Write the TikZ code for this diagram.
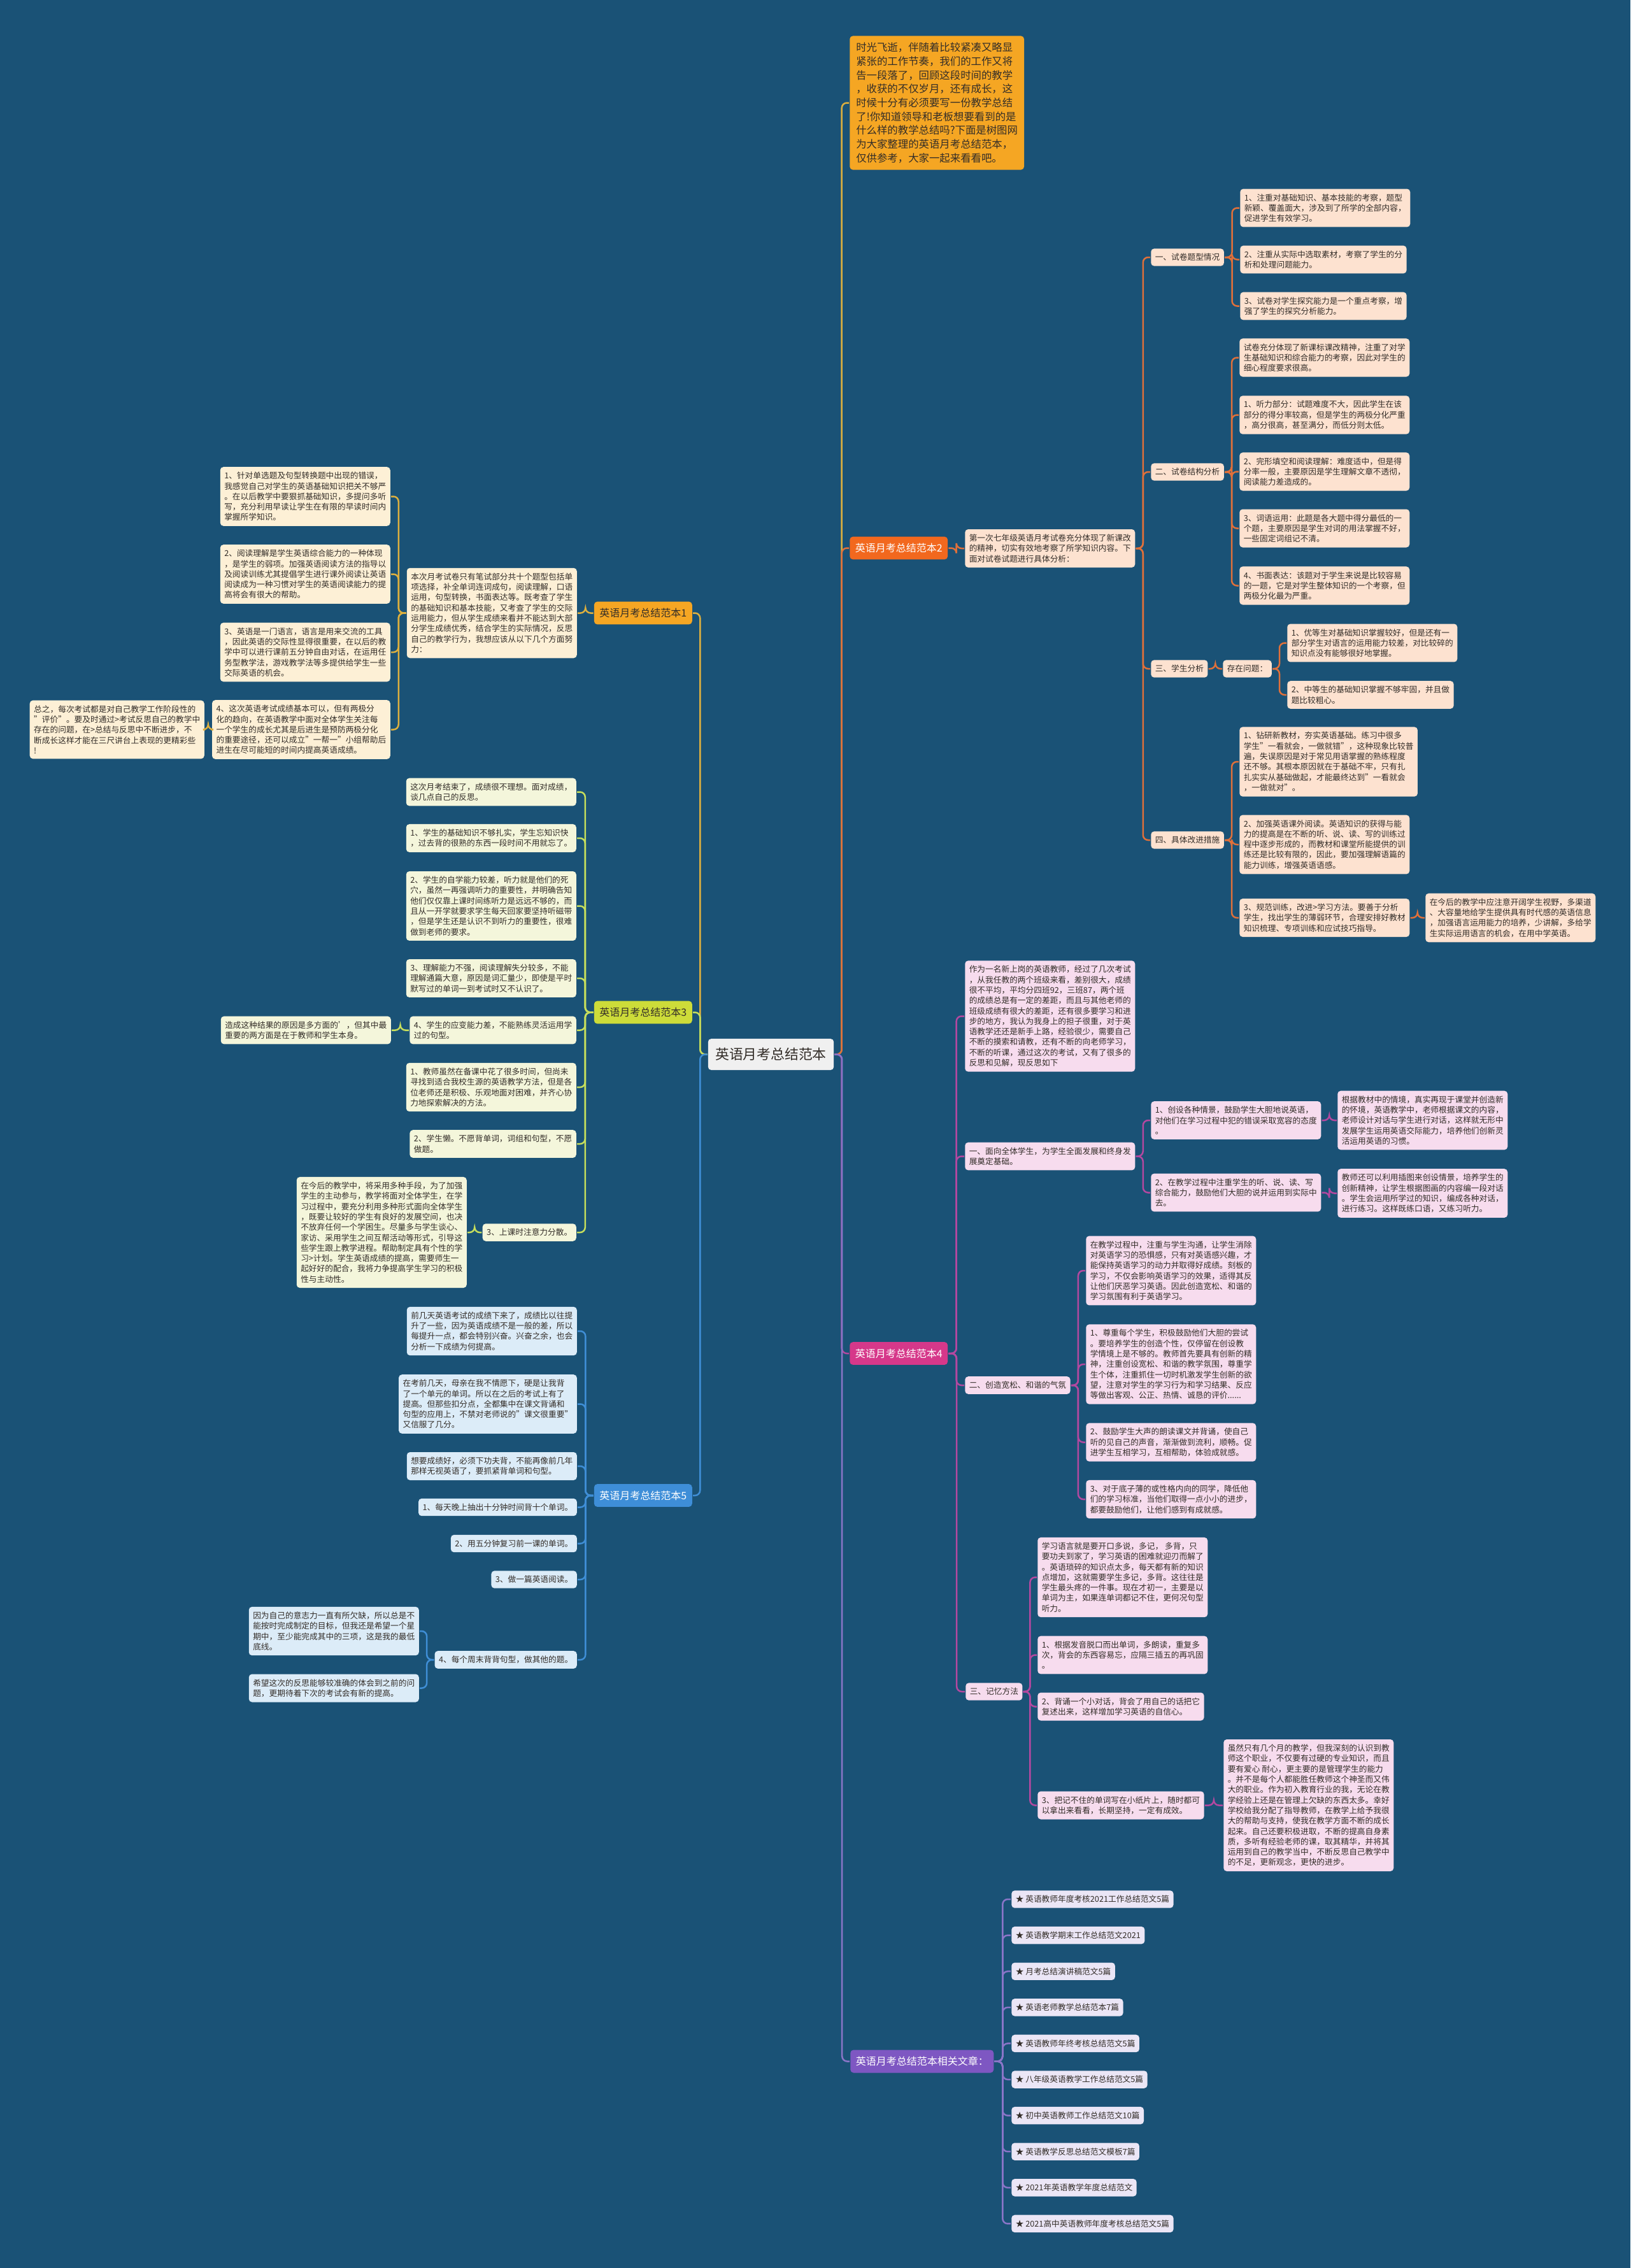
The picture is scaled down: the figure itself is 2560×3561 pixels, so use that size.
\documentclass[tikz,border=0pt]{standalone}
\usepackage{fontspec}
\setmainfont{Noto Sans CJK SC}
\usetikzlibrary{positioning,calc}
\definecolor{Backdrop}{RGB}{26,82,118}
\definecolor{TextDark}{RGB}{51,45,40}
\definecolor{RootFill}{RGB}{240,240,240}
\definecolor{Palette1}{RGB}{245,166,35}
\definecolor{Line1}{RGB}{222,176,62}
\definecolor{Leaf1}{RGB}{253,240,214}
\definecolor{Palette2}{RGB}{242,104,30}
\definecolor{Line2}{RGB}{224,112,58}
\definecolor{Leaf2}{RGB}{253,226,208}
\definecolor{Palette3}{RGB}{205,220,57}
\definecolor{Line3}{RGB}{198,222,92}
\definecolor{Leaf3}{RGB}{244,246,219}
\definecolor{Palette4}{RGB}{214,56,138}
\definecolor{Line4}{RGB}{180,72,160}
\definecolor{Leaf4}{RGB}{247,220,238}
\definecolor{Palette5}{RGB}{62,142,216}
\definecolor{Line5}{RGB}{63,142,214}
\definecolor{Leaf5}{RGB}{220,236,248}
\definecolor{Palette6}{RGB}{126,87,194}
\definecolor{Line6}{RGB}{138,117,200}
\definecolor{Leaf6}{RGB}{235,230,246}
\tikzset{map layout/.style={%
    y=-1pt,
    x=1pt,
    every node/.style={%
        rounded corners=5pt, align=left, inner xsep=6.5pt, inner ysep=7.8pt,
        font=\fontsize{12.7}{16.3}\selectfont, text=TextDark
    },
    every path/.style={%
        line width=2.5pt, rounded corners=8pt
    }
}}
\tikzset{leaf/.style={fill=#1}}
\tikzset{label/.style={%
    fill=#1, inner xsep=8.5pt, inner ysep=10.5pt, font=\fontsize{16}{19}\selectfont
}}
\tikzset{link/.style={%
    to path={let \p1=(\tikztostart), \p2=(\tikztotarget) in -- ({(\x1+\x2)/2},\y1) |- (\tikztotarget)}
}}

\begin{document}
\begin{tikzpicture}[map layout]
    \fill[Backdrop, rounded corners=0pt] (0,0) rectangle (2560,3561);
    \useasboundingbox (0,0) rectangle (2560,3561);

    \node[fill=RootFill, inner xsep=11.5pt, inner ysep=14.5pt, font=\fontsize{21.8}{26}\selectfont] (root) at (1210.5,1655.5) {英语月考总结范本};

    % right side
    \node[anchor=west, fill=Palette1, inner xsep=10pt, inner ysep=10.5pt, font=\fontsize{16.4}{21.7}\selectfont] (top) at (1333,161.5) {时光飞逝，伴随着比较紧凑又略显\\紧张的工作节奏，我们的工作又将\\告一段落了，回顾这段时间的教学\\，收获的不仅岁月，还有成长，这\\时候十分有必须要写一份教学总结\\了!你知道领导和老板想要看到的是\\什么样的教学总结吗?下面是树图网\\为大家整理的英语月考总结范本，\\仅供参考，大家一起来看看吧。};

    \node[anchor=west, label=Palette2, text=white] (b2) at (1333,860.5) {英语月考总结范本2};
    \node[anchor=west, leaf=Leaf2] (b2t) at (1514,861) {第一次七年级英语月考试卷充分体现了新课改\\的精神，切实有效地考察了所学知识内容。下\\面对试卷试题进行具体分析：};
    \node[anchor=west, leaf=Leaf2] (b2a) at (1806,404) {一、试卷题型情况};
    \node[anchor=west, leaf=Leaf2] (b2a1) at (1946,326.5) {1、注重对基础知识、基本技能的考察，题型\\新颖、覆盖面大，涉及到了所学的全部内容，\\促进学生有效学习。};
    \node[anchor=west, leaf=Leaf2] (b2a2) at (1946,407.5) {2、注重从实际中选取素材，考察了学生的分\\析和处理问题能力。};
    \node[anchor=west, leaf=Leaf2] (b2a3) at (1946,480.5) {3、试卷对学生探究能力是一个重点考察，增\\强了学生的探究分析能力。};
    \node[anchor=west, leaf=Leaf2] (b2b) at (1806,741) {二、试卷结构分析};
    \node[anchor=west, leaf=Leaf2] (b2b0) at (1945,561.5) {试卷充分体现了新课标课改精神，注重了对学\\生基础知识和综合能力的考察，因此对学生的\\细心程度要求很高。};
    \node[anchor=west, leaf=Leaf2] (b2b1) at (1945,651.5) {1、听力部分：试题难度不大，因此学生在该\\部分的得分率较高，但是学生的两极分化严重\\，高分很高，甚至满分，而低分则太低。};
    \node[anchor=west, leaf=Leaf2] (b2b2) at (1945,740.5) {2、完形填空和阅读理解：难度适中，但是得\\分率一般，主要原因是学生理解文章不透彻，\\阅读能力差造成的。};
    \node[anchor=west, leaf=Leaf2] (b2b3) at (1945,829.5) {3、词语运用：此题是各大题中得分最低的一\\个题，主要原因是学生对词的用法掌握不好，\\一些固定词组记不清。};
    \node[anchor=west, leaf=Leaf2] (b2b4) at (1945,919.5) {4、书面表达：该题对于学生来说是比较容易\\的一题，它是对学生整体知识的一个考察，但\\两极分化最为严重。};
    \node[anchor=west, leaf=Leaf2] (b2c) at (1806,1050) {三、学生分析};
    \node[anchor=west, leaf=Leaf2] (b2cq) at (1919,1050) {存在问题：};
    \node[anchor=west, leaf=Leaf2] (b2c1) at (2020,1009.5) {1、优等生对基础知识掌握较好，但是还有一\\部分学生对语言的运用能力较差，对比较碎的\\知识点没有能够很好地掌握。};
    \node[anchor=west, leaf=Leaf2] (b2c2) at (2020,1091) {2、中等生的基础知识掌握不够牢固，并且做\\题比较粗心。};
    \node[anchor=west, leaf=Leaf2] (b2d) at (1806,1319) {四、具体改进措施};
    \node[anchor=west, leaf=Leaf2] (b2d1) at (1945,1196) {1、钻研新教材，夯实英语基础。练习中很多\\学生"一看就会，一做就错"，这种现象比较普\\遍，失误原因是对于常见用语掌握的熟练程度\\还不够。其根本原因就在于基础不牢，只有扎\\扎实实从基础做起，才能最终达到"一看就会\\，一做就对"。};
    \node[anchor=west, leaf=Leaf2] (b2d2) at (1945,1326) {2、加强英语课外阅读。英语知识的获得与能\\力的提高是在不断的听、说、读、写的训练过\\程中逐步形成的，而教材和课堂所能提供的训\\练还是比较有限的，因此，要加强理解语篇的\\能力训练，增强英语语感。};
    \node[anchor=west, leaf=Leaf2] (b2d3) at (1945,1441) {3、规范训练，改进>学习方法。要善于分析\\学生，找出学生的薄弱环节，合理安排好教材\\知识梳理、专项训练和应试技巧指导。};
    \node[anchor=west, leaf=Leaf2] (b2d3x) at (2237,1441) {在今后的教学中应注意开阔学生视野，多渠道\\、大容量地给学生提供具有时代感的英语信息\\，加强语言运用能力的培养，少讲解，多给学\\生实际运用语言的机会，在用中学英语。};

    \node[anchor=west, label=Palette4, text=white] (b4) at (1333,2125) {英语月考总结范本4};
    \node[anchor=west, leaf=Leaf4] (b4t) at (1514,1595.5) {作为一名新上岗的英语教师，经过了几次考试\\，从我任教的两个班级来看，差别很大，成绩\\很不平均，平均分四班92，三班87，两个班\\的成绩总是有一定的差距，而且与其他老师的\\班级成绩有很大的差距，还有很多要学习和进\\步的地方，我认为我身上的担子很重，对于英\\语教学还还是新手上路，经验很少，需要自己\\不断的摸索和请教，还有不断的向老师学习，\\不断的听课，通过这次的考试，又有了很多的\\反思和见解，现反思如下};
    \node[anchor=west, leaf=Leaf4] (b4a) at (1514,1815.5) {一、面向全体学生，为学生全面发展和终身发\\展奠定基础。};
    \node[anchor=west, leaf=Leaf4] (b4a1) at (1806,1759) {1、创设各种情景，鼓励学生大胆地说英语，\\对他们在学习过程中犯的错误采取宽容的态度\\。};
    \node[anchor=west, leaf=Leaf4] (b4a1x) at (2099,1759) {根据教材中的情境，真实再现于课堂并创造新\\的怀境，英语教学中，老师根据课文的内容，\\老师设计对话与学生进行对话，这样就无形中\\发展学生运用英语交际能力，培养他们创新灵\\活运用英语的习惯。};
    \node[anchor=west, leaf=Leaf4] (b4a2) at (1806,1872.5) {2、在教学过程中注重学生的听、说、读、写\\综合能力，鼓励他们大胆的说并运用到实际中\\去。};
    \node[anchor=west, leaf=Leaf4] (b4a2x) at (2099,1873.5) {教师还可以利用插图来创设情景，培养学生的\\创新精神，让学生根据图画的内容编一段对话\\。学生会运用所学过的知识，编成各种对话，\\进行练习。这样既练口语，又练习听力。};
    \node[anchor=west, leaf=Leaf4] (b4b) at (1514,2175) {二、创造宽松、和谐的气氛};
    \node[anchor=west, leaf=Leaf4] (b4b0) at (1704,1995) {在教学过程中，注重与学生沟通，让学生消除\\对英语学习的恐惧感，只有对英语感兴趣，才\\能保持英语学习的动力并取得好成绩。刻板的\\学习，不仅会影响英语学习的效果，适得其反\\让他们厌恶学习英语。因此创造宽松、和谐的\\学习氛围有利于英语学习。};
    \node[anchor=west, leaf=Leaf4] (b4b1) at (1704,2142) {1、尊重每个学生，积极鼓励他们大胆的尝试\\。要培养学生的创造个性，仅停留在创设教\\学情境上是不够的。教师首先要具有创新的精\\神，注重创设宽松、和谐的教学氛围，尊重学\\生个体，注重抓住一切时机激发学生创新的欲\\望，注意对学生的学习行为和学习结果、反应\\等做出客观、公正、热情、诚恳的评价......};
    \node[anchor=west, leaf=Leaf4] (b4b2) at (1704,2264.5) {2、鼓励学生大声的朗读课文并背诵，使自己\\听的见自己的声音，渐渐做到流利，顺畅。促\\进学生互相学习，互相帮助，体验成就感。};
    \node[anchor=west, leaf=Leaf4] (b4b3) at (1704,2354) {3、对于底子薄的或性格内向的同学，降低他\\们的学习标准，当他们取得一点小小的进步，\\都要鼓励他们，让他们感到有成就感。};
    \node[anchor=west, leaf=Leaf4] (b4c) at (1515,2656) {三、记忆方法};
    \node[anchor=west, leaf=Leaf4] (b4c0) at (1628,2476.5) {学习语言就是要开口多说，多记， 多背，只\\要功夫到家了，学习英语的困难就迎刃而解了\\。英语琐碎的知识点太多，每天都有新的知识\\点增加，这就需要学生多记，多背。这往往是\\学生最头疼的一件事。现在才初一，主要是以\\单词为主，如果连单词都记不住，更何况句型\\听力。};
    \node[anchor=west, leaf=Leaf4] (b4c1) at (1628,2598.5) {1、根据发音脱口而出单词，多朗读，重复多\\次，背会的东西容易忘，应隔三插五的再巩固\\。};
    \node[anchor=west, leaf=Leaf4] (b4c2) at (1628,2679.5) {2、背诵一个小对话，背会了用自己的话把它\\复述出来，这样增加学习英语的自信心。};
    \node[anchor=west, leaf=Leaf4] (b4c3) at (1628,2834.5) {3、把记不住的单词写在小纸片上，随时都可\\以拿出来看看，长期坚持，一定有成效。};
    \node[anchor=west, leaf=Leaf4] (b4c3x) at (1920,2834.5) {虽然只有几个月的教学，但我深刻的认识到教\\师这个职业，不仅要有过硬的专业知识，而且\\要有爱心 耐心，更主要的是管理学生的能力\\。并不是每个人都能胜任教师这个神圣而又伟\\大的职业。作为初入教育行业的我，无论在教\\学经验上还是在管理上欠缺的东西太多。幸好\\学校给我分配了指导教师，在教学上给予我很\\大的帮助与支持，使我在教学方面不断的成长\\起来。自己还要积极进取，不断的提高自身素\\质，多听有经验老师的课，取其精华，并将其\\运用到自己的教学当中，不断反思自己教学中\\的不足，更新观念，更快的进步。};

    \node[anchor=west, label=Palette6, text=white] (rel) at (1334,3236.5) {英语月考总结范本相关文章：};

    % left side
    \node[anchor=east, label=Palette1] (b1) at (1088,962.5) {英语月考总结范本1};
    \node[anchor=east, leaf=Leaf1] (b1t) at (907,962.5) {本次月考试卷只有笔试部分共十个题型包括单\\项选择，补全单词连词成句，阅读理解，口语\\运用，句型转换，书面表达等。既考查了学生\\的基础知识和基本技能，又考查了学生的交际\\运用能力，但从学生成绩来看并不能达到大部\\分学生成绩优秀，结合学生的实际情况，反思\\自己的教学行为，我想应该从以下几个方面努\\力：};
    \node[anchor=east, leaf=Leaf1] (b1i1) at (614,779.5) {1、针对单选题及句型转换题中出现的错误，\\我感觉自己对学生的英语基础知识把关不够严\\。在以后教学中要狠抓基础知识，多提问多听\\写，充分利用早读让学生在有限的早读时间内\\掌握所学知识。};
    \node[anchor=east, leaf=Leaf1] (b1i2) at (614,901.5) {2、阅读理解是学生英语综合能力的一种体现\\，是学生的弱项。加强英语阅读方法的指导以\\及阅读训练尤其提倡学生进行课外阅读让英语\\阅读成为一种习惯对学生的英语阅读能力的提\\高将会有很大的帮助。};
    \node[anchor=east, leaf=Leaf1] (b1i3) at (614,1024) {3、英语是一门语言，语言是用来交流的工具\\，因此英语的交际性显得很重要，在以后的教\\学中可以进行课前五分钟自由对话，在运用任\\务型教学法，游戏教学法等多提供给学生一些\\交际英语的机会。};
    \node[anchor=east, leaf=Leaf1] (b1i4) at (614,1145.5) {4、这次英语考试成绩基本可以，但有两极分\\化的趋向，在英语教学中面对全体学生关注每\\一个学生的成长尤其是后进生是预防两极分化\\的重要途径，还可以成立"一帮一"小组帮助后\\进生在尽可能短的时间内提高英语成绩。};
    \node[anchor=east, leaf=Leaf1] (b1i4x) at (322,1145.5) {总之，每次考试都是对自己教学工作阶段性的\\"评价"。要及时通过>考试反思自己的教学中\\存在的问题，在>总结与反思中不断进步，不\\断成长这样才能在三尺讲台上表现的更精彩些\\!};

    \node[anchor=east, label=Palette3] (b3) at (1088,1589.5) {英语月考总结范本3};
    \node[anchor=east, leaf=Leaf3] (b3i0) at (906,1243.5) {这次月考结束了，成绩很不理想。面对成绩，\\谈几点自己的反思。};
    \node[anchor=east, leaf=Leaf3] (b3i1) at (906,1316) {1、学生的基础知识不够扎实，学生忘知识快\\，过去背的很熟的东西一段时间不用就忘了。};
    \node[anchor=east, leaf=Leaf3] (b3i2) at (906,1422.5) {2、学生的自学能力较差，听力就是他们的死\\穴，虽然一再强调听力的重要性，并明确告知\\他们仅仅靠上课时间练听力是远远不够的，而\\且从一开学就要求学生每天回家要坚持听磁带\\，但是学生还是认识不到听力的重要性，很难\\做到老师的要求。};
    \node[anchor=east, leaf=Leaf3] (b3i3) at (906,1536) {3、理解能力不强，阅读理解失分较多，不能\\理解通篇大意，原因是词汇量少，即使是平时\\默写过的单词一到考试时又不认识了。};
    \node[anchor=east, leaf=Leaf3] (b3i4) at (906,1617.5) {4、学生的应变能力差，不能熟练灵活运用学\\过的句型。};
    \node[anchor=east, leaf=Leaf3] (b3i4x) at (615,1617.5) {造成这种结果的原因是多方面的'，但其中最\\重要的两方面是在于教师和学生本身。};
    \node[anchor=east, leaf=Leaf3] (b3i5) at (906,1707) {1、教师虽然在备课中花了很多时间，但尚未\\寻找到适合我校生源的英语教学方法，但是各\\位老师还是积极、乐观地面对困难，并齐心协\\力地探索解决的方法。};
    \node[anchor=east, leaf=Leaf3] (b3i6) at (906,1796) {2、学生懒。不愿背单词，词组和句型，不愿\\做题。};
    \node[anchor=east, leaf=Leaf3] (b3i7) at (906,1935) {3、上课时注意力分散。};
    \node[anchor=east, leaf=Leaf3] (b3i7x) at (734,1935) {在今后的教学中，将采用多种手段，为了加强\\学生的主动参与，教学将面对全体学生，在学\\习过程中，要充分利用多种形式面向全体学生\\，既要让较好的学生有良好的发展空间，也决\\不放弃任何一个学困生。尽量多与学生谈心、\\家访、采用学生之间互帮活动等形式，引导这\\些学生跟上教学进程。帮助制定具有个性的学\\习>计划。学生英语成绩的提高，需要师生一\\起好好的配合，我将力争提高学生学习的积极\\性与主动性。};

    \node[anchor=east, label=Palette5, text=white] (b5) at (1088,2348) {英语月考总结范本5};
    \node[anchor=east, leaf=Leaf5] (b5i0) at (907,2090) {前几天英语考试的成绩下来了，成绩比以往提\\升了一些，因为英语成绩不是一般的差，所以\\每提升一点，都会特别兴奋。兴奋之余，也会\\分析一下成绩为何提高。};
    \node[anchor=east, leaf=Leaf5] (b5i1) at (907,2204.5) {在考前几天，母亲在我不情愿下，硬是让我背\\了一个单元的单词。所以在之后的考试上有了\\提高。但那些扣分点，全都集中在课文背诵和\\句型的应用上，不禁对老师说的"课文很重要"\\又信服了几分。};
    \node[anchor=east, leaf=Leaf5] (b5i2) at (907,2302) {想要成绩好，必须下功夫背，不能再像前几年\\那样无视英语了，要抓紧背单词和句型。};
    \node[anchor=east, leaf=Leaf5] (b5i3) at (907,2366.5) {1、每天晚上抽出十分钟时间背十个单词。};
    \node[anchor=east, leaf=Leaf5] (b5i4) at (907,2423.5) {2、用五分钟复习前一课的单词。};
    \node[anchor=east, leaf=Leaf5] (b5i5) at (907,2480) {3、做一篇英语阅读。};
    \node[anchor=east, leaf=Leaf5] (b5i6) at (907,2606) {4、每个周末背背句型，做其他的题。};
    \node[anchor=east, leaf=Leaf5] (b5i6a) at (659,2561) {因为自己的意志力一直有所欠缺，所以总是不\\能按时完成制定的目标，但我还是希望一个星\\期中，至少能完成其中的三项，这是我的最低\\底线。};
    \node[anchor=east, leaf=Leaf5] (b5i6b) at (659,2650.5) {希望这次的反思能够较准确的体会到之前的问\\题，更期待着下次的考试会有新的提高。};

    % connectors
    \draw[Line1] (root.east) to[link] (top.west);
    \draw[Line2] (root.east) to[link] (b2.west);
    \draw[Line4] (root.east) to[link] (b4.west);
    \draw[Line6] (root.east) to[link] (rel.west);
    \draw[Line1] (root.west) to[link] (b1.east);
    \draw[Line3] (root.west) to[link] (b3.east);
    \draw[Line5] (root.west) to[link] (b5.east);

    \draw[Line2] (b2.east) to[link] (b2t.west);
    \foreach \b in {b2a,b2b,b2c,b2d} {\draw[Line2] (b2t.east) to[link] (\b.west);}
    \foreach \b in {b2a1,b2a2,b2a3} {\draw[Line2] (b2a.east) to[link] (\b.west);}
    \foreach \b in {b2b0,b2b1,b2b2,b2b3,b2b4} {\draw[Line2] (b2b.east) to[link] (\b.west);}
    \draw[Line2] (b2c.east) to[link] (b2cq.west);
    \foreach \b in {b2c1,b2c2} {\draw[Line2] (b2cq.east) to[link] (\b.west);}
    \foreach \b in {b2d1,b2d2,b2d3} {\draw[Line2] (b2d.east) to[link] (\b.west);}
    \draw[Line2] (b2d3.east) to[link] (b2d3x.west);

    \foreach \b in {b4t,b4a,b4b,b4c} {\draw[Line4] (b4.east) to[link] (\b.west);}
    \foreach \b in {b4a1,b4a2} {\draw[Line4] (b4a.east) to[link] (\b.west);}
    \draw[Line4] (b4a1.east) to[link] (b4a1x.west);
    \draw[Line4] (b4a2.east) to[link] (b4a2x.west);
    \foreach \b in {b4b0,b4b1,b4b2,b4b3} {\draw[Line4] (b4b.east) to[link] (\b.west);}
    \foreach \b in {b4c0,b4c1,b4c2,b4c3} {\draw[Line4] (b4c.east) to[link] (\b.west);}
    \draw[Line4] (b4c3.east) to[link] (b4c3x.west);

    \foreach \t [count=\i] in {英语教师年度考核2021工作总结范文5篇,英语教学期末工作总结范文2021,月考总结演讲稿范文5篇,英语老师教学总结范本7篇,英语教师年终考核总结范文5篇,八年级英语教学工作总结范文5篇,初中英语教师工作总结范文10篇,英语教学反思总结范文模板7篇,2021年英语教学年度总结范文,2021高中英语教师年度考核总结范文5篇} {
        \node[anchor=west, leaf=Leaf6] (r\i) at (1587,{2982+(\i-1)*56.6}) {★ \t};
        \draw[Line6] (rel.east) to[link] (r\i.west);
    }

    \draw[Line1] (b1.west) to[link] (b1t.east);
    \foreach \b in {b1i1,b1i2,b1i3,b1i4} {\draw[Line1] (b1t.west) to[link] (\b.east);}
    \draw[Line1] (b1i4.west) to[link] (b1i4x.east);

    \foreach \b in {b3i0,b3i1,b3i2,b3i3,b3i4,b3i5,b3i6,b3i7} {\draw[Line3] (b3.west) to[link] (\b.east);}
    \draw[Line3] (b3i4.west) to[link] (b3i4x.east);
    \draw[Line3] (b3i7.west) to[link] (b3i7x.east);

    \foreach \b in {b5i0,b5i1,b5i2,b5i3,b5i4,b5i5,b5i6} {\draw[Line5] (b5.west) to[link] (\b.east);}
    \foreach \b in {b5i6a,b5i6b} {\draw[Line5] (b5i6.west) to[link] (\b.east);}
\end{tikzpicture}
\end{document}
